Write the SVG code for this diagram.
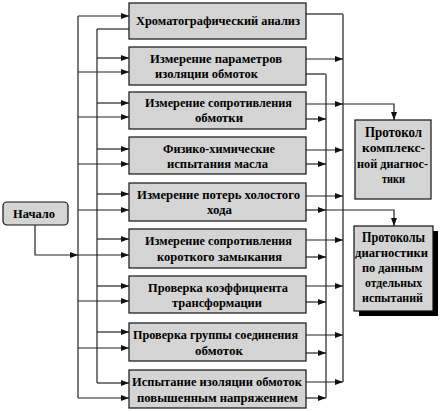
<svg xmlns="http://www.w3.org/2000/svg" width="442" height="411" viewBox="0 0 442 411">
<defs>
<marker id="ah" viewBox="0 0 8 6" refX="8" refY="3" markerWidth="8" markerHeight="6" markerUnits="userSpaceOnUse" orient="auto">
<path d="M0,0 L8,3 L0,6 Z" fill="#111"/>
</marker>
<style>
.box{fill:#d4d4d4;stroke:#111;stroke-width:1.2}
.t{font-family:'Liberation Serif','DejaVu Serif',serif;font-weight:bold;font-size:13px;fill:#000;text-anchor:middle}
.ts{font-size:12px}
.tb{font-size:14px}
.c{fill:none;stroke:#222;stroke-width:1.2}
.g{fill:none;stroke:#777;stroke-width:2}
.a{marker-end:url(#ah)}
</style>
</defs>
<rect width="442" height="411" fill="#fff"/>

<g id="connectors">
<line class="c" x1="78" y1="16" x2="78" y2="398"/>
<line class="c" x1="97" y1="29" x2="97" y2="383"/>
<path class="c a" d="M35,225 V255 H78"/>
<line class="c a" x1="78" y1="16" x2="129" y2="16"/>
<line class="c a" x1="78" y1="72" x2="129" y2="72"/>
<line class="c a" x1="78" y1="117" x2="129" y2="117"/>
<line class="c a" x1="78" y1="164" x2="129" y2="164"/>
<line class="c a" x1="78" y1="210" x2="129" y2="210"/>
<line class="c a" x1="78" y1="255" x2="129" y2="255"/>
<line class="c a" x1="78" y1="301" x2="129" y2="301"/>
<line class="c a" x1="78" y1="348" x2="129" y2="348"/>
<line class="c a" x1="78" y1="398" x2="129" y2="398"/>
<line class="c" x1="129" y1="29" x2="97" y2="29"/>
<line class="c a" x1="97" y1="58" x2="129" y2="58"/>
<line class="c a" x1="97" y1="103" x2="129" y2="103"/>
<line class="c a" x1="97" y1="149" x2="129" y2="149"/>
<line class="c a" x1="97" y1="194" x2="129" y2="194"/>
<line class="c a" x1="97" y1="239" x2="129" y2="239"/>
<line class="c a" x1="97" y1="286" x2="129" y2="286"/>
<line class="c a" x1="97" y1="332" x2="129" y2="332"/>
<line class="c a" x1="97" y1="383" x2="129" y2="383"/>

<line class="g" x1="343" y1="14" x2="343" y2="382"/>
<line class="c" x1="326" y1="74" x2="326" y2="398"/>
<path class="g" d="M306,14 H343"/>
<path class="g" d="M306,74 H326"/>
<line class="c a" x1="306" y1="59" x2="343" y2="59"/>
<line class="c a" x1="306" y1="104" x2="343" y2="104"/>
<line class="c a" x1="306" y1="150" x2="343" y2="150"/>
<line class="c a" x1="306" y1="196" x2="343" y2="196"/>
<line class="c a" x1="306" y1="240" x2="343" y2="240"/>
<line class="c a" x1="306" y1="286" x2="343" y2="286"/>
<line class="c a" x1="306" y1="335" x2="343" y2="335"/>
<line class="c a" x1="306" y1="382" x2="343" y2="382"/>
<line class="c a" x1="306" y1="119" x2="326" y2="119"/>
<line class="c a" x1="306" y1="164" x2="326" y2="164"/>
<line class="c a" x1="306" y1="210" x2="326" y2="210"/>
<line class="c a" x1="306" y1="257" x2="326" y2="257"/>
<line class="c a" x1="306" y1="302" x2="326" y2="302"/>
<line class="c a" x1="306" y1="353" x2="326" y2="353"/>
<line class="c a" x1="306" y1="398" x2="326" y2="398"/>
<path class="c a" d="M343,104 H394 V120"/>
<path class="c a" d="M326,210 H394 V226"/>
</g>

<g id="start">
<rect class="box" x="3" y="202" width="65" height="23" rx="4"/>
<text class="t" x="34" y="218" textLength="42" lengthAdjust="spacingAndGlyphs">Начало</text>
</g>

<g id="n1">
<rect class="box" x="129" y="3" width="177" height="36"/>
<text class="t" x="218" y="25" textLength="164" lengthAdjust="spacingAndGlyphs">Хроматографический анализ</text>
</g>
<g id="n2">
<rect class="box" x="129" y="47" width="177" height="38"/>
<text class="t" x="216" y="63" textLength="132" lengthAdjust="spacingAndGlyphs">Измерение параметров</text>
<text class="t" x="206.5" y="78" textLength="103" lengthAdjust="spacingAndGlyphs">изоляции обмоток</text>
</g>
<g id="n3">
<rect class="box" x="129" y="92" width="177" height="37"/>
<text class="t" x="218.5" y="107" textLength="147" lengthAdjust="spacingAndGlyphs">Измерение сопротивления</text>
<text class="t" x="219" y="122" textLength="48" lengthAdjust="spacingAndGlyphs">обмотки</text>
</g>
<g id="n4">
<rect class="box" x="129" y="137" width="177" height="37"/>
<text class="t ts" x="219" y="153" textLength="112" lengthAdjust="spacingAndGlyphs">Физико-химические</text>
<text class="t ts" x="217.5" y="168" textLength="101" lengthAdjust="spacingAndGlyphs">испытания масла</text>
</g>
<g id="n5">
<rect class="box" x="129" y="183" width="177" height="38"/>
<text class="t" x="218.5" y="199" textLength="163" lengthAdjust="spacingAndGlyphs">Измерение потерь холостого</text>
<text class="t" x="219.5" y="214" textLength="25" lengthAdjust="spacingAndGlyphs">хода</text>
</g>
<g id="n6">
<rect class="box" x="129" y="229" width="177" height="39"/>
<text class="t" x="218.5" y="245" textLength="147" lengthAdjust="spacingAndGlyphs">Измерение сопротивления</text>
<text class="t" x="219.5" y="261" textLength="125" lengthAdjust="spacingAndGlyphs">короткого замыкания</text>
</g>
<g id="n7">
<rect class="box" x="129" y="276" width="177" height="37"/>
<text class="t" x="218" y="292" textLength="140" lengthAdjust="spacingAndGlyphs">Проверка коэффициента</text>
<text class="t" x="217" y="307" textLength="90" lengthAdjust="spacingAndGlyphs">трансформации</text>
</g>
<g id="n8">
<rect class="box" x="129" y="323" width="177" height="38"/>
<text class="t" x="215.5" y="339" textLength="165" lengthAdjust="spacingAndGlyphs">Проверка группы соединения</text>
<text class="t" x="219" y="355" textLength="48" lengthAdjust="spacingAndGlyphs">обмоток</text>
</g>
<g id="n9">
<rect class="box" x="129" y="370" width="177" height="38"/>
<text class="t" x="217" y="386" textLength="170" lengthAdjust="spacingAndGlyphs">Испытание изоляции обмоток</text>
<text class="t" x="217.5" y="402" textLength="161" lengthAdjust="spacingAndGlyphs">повышенным напряжением</text>
</g>

<g id="p1">
<rect class="box" x="355" y="120" width="76" height="79"/>
<text class="t tb" x="393.5" y="137" textLength="57" lengthAdjust="spacingAndGlyphs">Протокол</text>
<text class="t ts" x="393.5" y="152" textLength="63" lengthAdjust="spacingAndGlyphs">комплекс-</text>
<text class="t ts" x="392.5" y="168" textLength="71" lengthAdjust="spacingAndGlyphs">ной диагнос-</text>
<text class="t ts" x="393.5" y="183" textLength="23" lengthAdjust="spacingAndGlyphs">тики</text>
</g>
<g id="p2">
<rect x="359" y="231" width="79" height="85" fill="#000"/>
<rect class="box" x="354" y="226" width="79" height="85"/>
<text class="t tb" x="393.5" y="242" textLength="63" lengthAdjust="spacingAndGlyphs">Протоколы</text>
<text class="t ts" x="391.5" y="257" textLength="73" lengthAdjust="spacingAndGlyphs">диагностики</text>
<text class="t ts" x="392.5" y="272" textLength="61" lengthAdjust="spacingAndGlyphs">по данным</text>
<text class="t ts" x="393.5" y="287" textLength="57" lengthAdjust="spacingAndGlyphs">отдельных</text>
<text class="t ts" x="392.5" y="302" textLength="61" lengthAdjust="spacingAndGlyphs">испытаний</text>
</g>
</svg>
